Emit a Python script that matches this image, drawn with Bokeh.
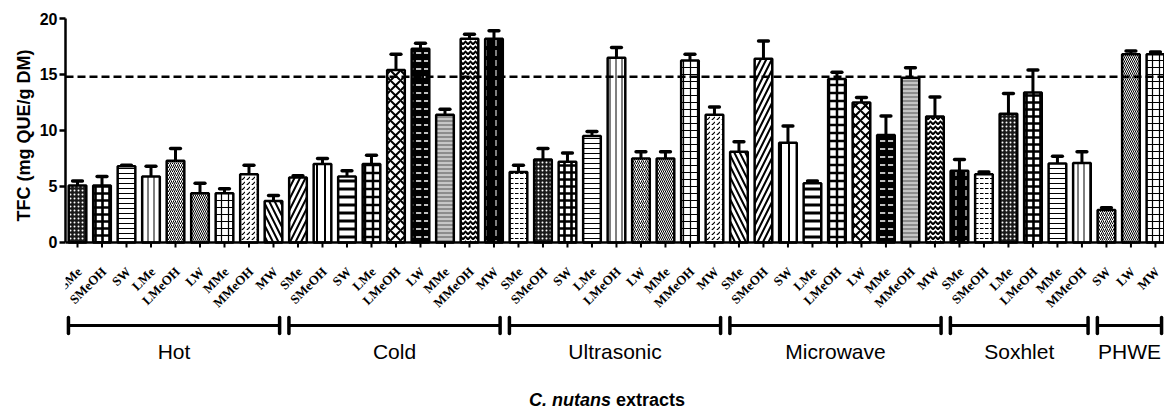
import math
from bokeh.plotting import figure
from bokeh.models import ColumnDataSource, Range1d, FixedTicker, Span, Title, LabelSet
from bokeh.core.properties import value
from bokeh.embed import file_html
from bokeh.resources import INLINE

# ---------------- data ----------------
groups = ["Hot", "Cold", "Ultrasonic", "Microwave", "Soxhlet", "PHWE"]

hot_labels = ["SMe", "SMeOH", "SW", "LMe", "LMeOH", "LW", "MMe", "MMeOH", "MW"]
hot_tfc = [5.1, 5.1, 6.8, 5.9, 7.3, 4.4, 4.4, 6.1, 3.7]
hot_err = [0.4, 0.8, 0.1, 0.9, 1.1, 0.9, 0.4, 0.8, 0.5]

cold_labels = ["SMe", "SMeOH", "SW", "LMe", "LMeOH", "LW", "MMe", "MMeOH", "MW"]
cold_tfc = [5.8, 7.0, 5.9, 7.0, 15.4, 17.3, 11.4, 18.2, 18.2]
cold_err = [0.15, 0.5, 0.5, 0.8, 1.4, 0.5, 0.5, 0.4, 0.7]

ultra_labels = ["SMe", "SMeOH", "SW", "LMe", "LMeOH", "LW", "MMe", "MMeOH", "MW"]
ultra_tfc = [6.3, 7.4, 7.2, 9.5, 16.5, 7.5, 7.5, 16.25, 11.4]
ultra_err = [0.6, 1.0, 0.8, 0.4, 0.9, 0.6, 0.6, 0.55, 0.7]

micro_labels = ["SMe", "SMeOH", "SW", "LMe", "LMeOH", "LW", "MMe", "MMeOH", "MW"]
micro_tfc = [8.1, 16.4, 8.9, 5.3, 14.6, 12.5, 9.6, 14.7, 11.25]
micro_err = [0.9, 1.6, 1.5, 0.2, 0.6, 0.45, 1.7, 0.9, 1.75]

soxh_labels = ["SMe", "SMeOH", "LMe", "LMeOH", "MMe", "MMeOH"]
soxh_tfc = [6.4, 6.1, 11.5, 13.4, 7.05, 7.1]
soxh_err = [1.0, 0.2, 1.8, 2.0, 0.65, 1.0]

phwe_labels = ["SW", "LW", "MW"]
phwe_tfc = [2.9, 16.8, 16.8]
phwe_err = [0.2, 0.3, 0.2]

reference_level = 14.8
y_ticks = [0, 5, 10, 15, 20]

group_label_lists = [hot_labels, cold_labels, ultra_labels, micro_labels, soxh_labels, phwe_labels]
group_values = [hot_tfc, cold_tfc, ultra_tfc, micro_tfc, soxh_tfc, phwe_tfc]
group_errors = [hot_err, cold_err, ultra_err, micro_err, soxh_err, phwe_err]

# ---------------- styles (cycle of fill patterns) ----------------
# (fill, hatch, hatch colour, scale, weight)
styles = [
    ("#1a1a1a", "dot", "white", 4, 1.0),
    ("white", "cross", "black", 7, 2.6),
    ("white", "horizontal_line", "black", 5, 1.0),
    ("white", "vertical_line", "black", 6, 1.0),
    ("white", "right_diagonal_line", "black", 4, 1.0),
    ("white", "left_diagonal_line", "black", 4, 1.0),
    ("white", "cross", "black", 7, 1.2),
    ("white", "right_diagonal_dash", "black", 5, 1.2),
    ("white", "left_diagonal_line", "black", 11, 2.0),
    ("white", "right_diagonal_line", "black", 11, 2.0),
    ("white", "vertical_line", "black", 8, 2.0),
    ("white", "horizontal_line", "black", 8, 3.0),
    ("white", "cross", "black", 8, 2.5),
    ("white", "diagonal_cross", "black", 10, 2.0),
    ("black", "horizontal_dash", "white", 8, 1.5),
    ("#8c8c8c", "horizontal_line", "white", 4, 1.0),
    ("white", "horizontal_wave", "black", 5, 2.0),
    ("black", "vertical_dash", "white", 10, 1.0),
    ("white", "horizontal_dash", "black", 5, 1.0),
]

# ---------------- build columns ----------------
xs, labels, tfc, err = [], [], [], []
brackets = []
pos = 0
for g, labs, vals, errs in zip(groups, group_label_lists, group_values, group_errors):
    first = pos + 1
    for lab, v, e in zip(labs, vals, errs):
        pos += 1
        xs.append(pos)
        labels.append(lab)
        tfc.append(v)
        err.append(e)
    brackets.append((g, first, pos))

n = len(xs)
st = [styles[i % len(styles)] for i in range(n)]
src = ColumnDataSource(dict(
    x=xs, tfc=tfc, top=[v + e for v, e in zip(tfc, err)],
    cap_l=[x - 0.2 for x in xs], cap_r=[x + 0.2 for x in xs],
    fill=[s[0] for s in st], hatch=[s[1] for s in st], hcolor=[s[2] for s in st],
    hscale=[s[3] for s in st], hweight=[s[4] for s in st],
    label=labels, lx=[x + 0.08 for x in xs], ly=[-2.4] * n,
    tick_top=[0] * n, tick_bot=[-0.45] * n,
))

bsrc = ColumnDataSource(dict(
    name=[b[0] for b in brackets],
    x0=[b[1] - 0.37 for b in brackets],
    x1=[b[2] + 0.25 for b in brackets],
    mid=[(b[1] - 0.37 + b[2] + 0.25) / 2 for b in brackets],
    y=[-7.41] * len(brackets), ycap0=[-6.7] * len(brackets), ycap1=[-8.13] * len(brackets),
    ylab=[-9.7] * len(brackets),
))

# ---------------- figure ----------------
x_start, x_end = 0.51, 45.37
p = figure(width=1164, height=411, output_backend="svg", toolbar_location=None,
           x_range=Range1d(x_start, x_end), y_range=Range1d(-15.09, 20),
           x_axis_location=None, min_border_left=65, min_border_right=0,
           min_border_top=18, min_border_bottom=0)
p.outline_line_color = None
p.xgrid.visible = False
p.ygrid.visible = False

ax = p.yaxis[0]
ax.bounds = (0, 20)
ax.ticker = FixedTicker(ticks=y_ticks)
ax.minor_tick_line_color = None
ax.axis_line_width = 2.5
ax.major_tick_line_width = 2.5
ax.major_tick_out = 6
ax.major_tick_in = 0
ax.major_label_standoff = 2
ax.major_label_text_font = "Liberation Sans"
ax.major_label_text_font_style = "bold"
ax.major_label_text_font_size = "16px"
ax.major_label_text_color = "black"

# y-axis title, placed along the 0-20 part of the axis
p.add_layout(Title(text="TFC (mg QUE/g DM)", align="left", offset=190,
                   text_font="Liberation Sans", text_font_style="bold",
                   text_font_size="18px", text_color="black", standoff=6), "left")

# bars
p.vbar(x="x", top="tfc", width=0.72, source=src, fill_color="fill",
       line_color="black", line_width=2.5, hatch_pattern="hatch",
       hatch_color="hcolor", hatch_scale="hscale", hatch_weight="hweight")

# error bars (upper only)
p.segment(x0="x", y0="tfc", x1="x", y1="top", source=src, line_color="black", line_width=3)
p.segment(x0="cap_l", y0="top", x1="cap_r", y1="top", source=src, line_color="black",
          line_width=3.5, line_cap="round")

# baseline and ticks
p.add_layout(Span(location=0, dimension="width", line_color="black", line_width=2.5))
p.segment(x0="x", y0="tick_top", x1="x", y1="tick_bot", source=src, line_color="black", line_width=2)

# reference dashed line
p.add_layout(Span(location=reference_level, dimension="width", line_color="black",
                  line_width=2.5, line_dash="8 4"))

# rotated category labels
p.add_layout(LabelSet(x="lx", y="ly", text="label", source=src, angle=math.pi / 4,
                      text_align="right", text_baseline="middle", text_font="Liberation Serif",
                      text_font_style="bold", text_font_size="13px", text_color="black"))

# group brackets
p.segment(x0="x0", y0="y", x1="x1", y1="y", source=bsrc, line_color="black", line_width=3)
p.segment(x0="x0", y0="ycap0", x1="x0", y1="ycap1", source=bsrc, line_color="black",
          line_width=3.5, line_cap="round")
p.segment(x0="x1", y0="ycap0", x1="x1", y1="ycap1", source=bsrc, line_color="black",
          line_width=3.5, line_cap="round")
p.text(x="mid", y="ylab", text="name", source=bsrc, text_align="center", text_baseline="middle",
       text_font=value("Liberation Sans"), text_font_size="21px", text_color="black")

# axis title (mixed styles)
mid = (x_start + x_end) / 2
p.text(x=[mid], y=[-14.1], text=["C. nutans"], x_offset=-4, text_align="right",
       text_baseline="middle", text_font=value("Liberation Sans"),
       text_font_style="bold italic", text_font_size="18px", text_color="black")
p.text(x=[mid], y=[-14.1], text=["extracts"], x_offset=1, text_align="left",
       text_baseline="middle", text_font=value("Liberation Sans"),
       text_font_style="bold", text_font_size="18px", text_color="black")

open("out.html", "w").write(file_html(p, INLINE))
